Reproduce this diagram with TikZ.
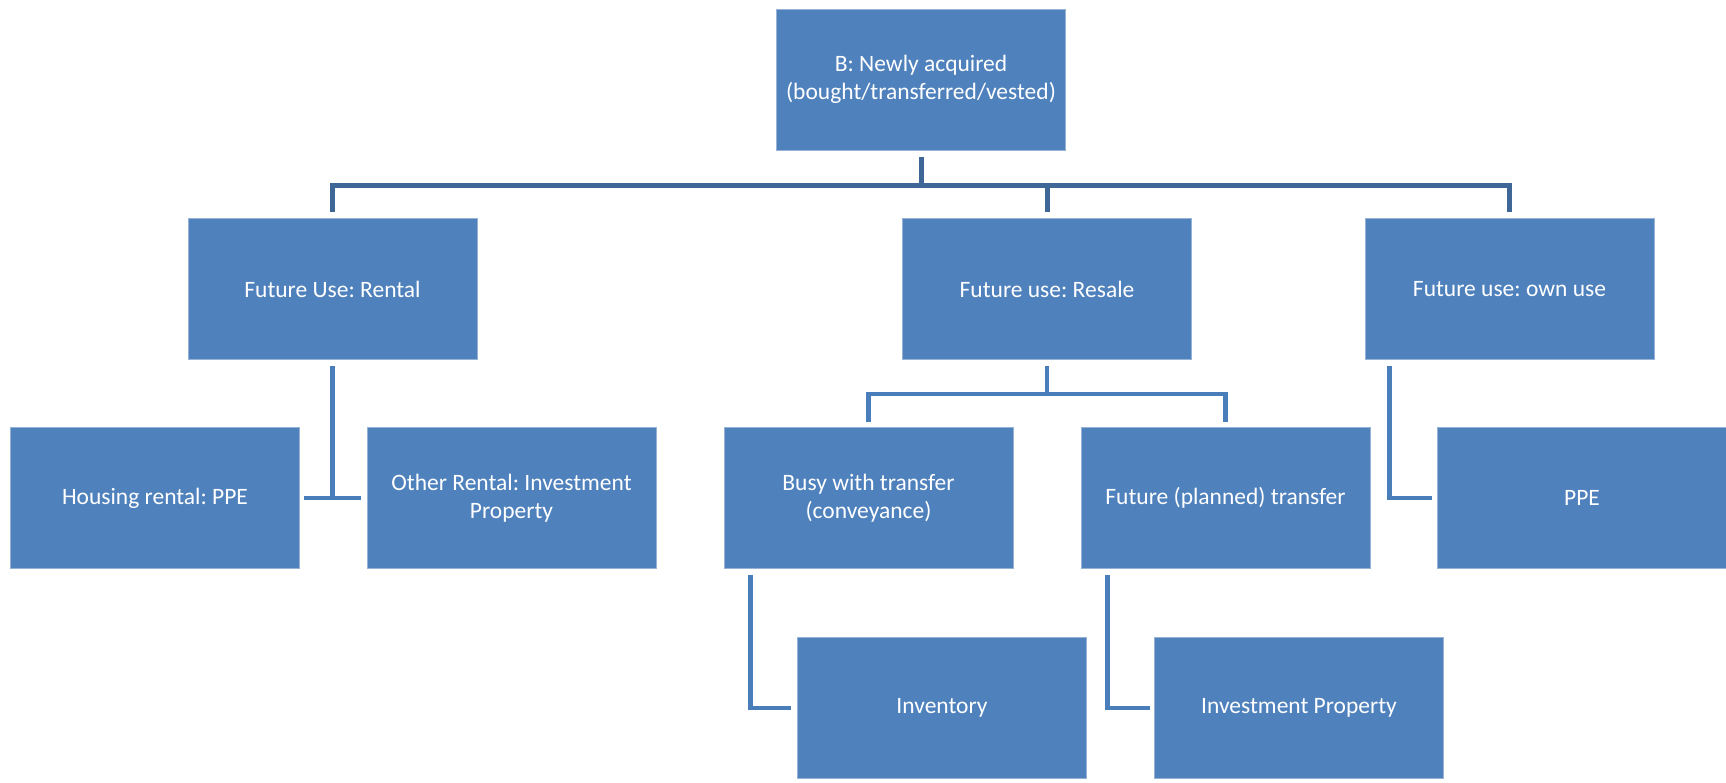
\documentclass[tikz,border=0pt]{standalone}
\usepackage{fontspec}
\setmainfont{Carlito}
\usetikzlibrary{calc}
\frenchspacing
\definecolor{boxfill}{RGB}{79,129,189}
\definecolor{boxedge}{RGB}{150,178,212}
\definecolor{conntop}{RGB}{62,103,151}
\definecolor{connc}{RGB}{74,126,187}
\tikzset{
  box/.style={rectangle, fill=boxfill, draw=boxedge, line width=1pt, inner sep=0pt,
    minimum width=289pt, minimum height=141pt, text=white, align=center,
    font=\fontsize{23.5}{28}\selectfont\frenchspacing},
  linktop/.style={draw=conntop, line width=5pt},
  link/.style={draw=connc, line width=4.5pt},
}
\begin{document}
\begin{tikzpicture}[x=1pt,y=-1pt]
\useasboundingbox[fill=white] (0,0) rectangle (1726,782);
% nodes
\node[box] (top) at (921,79.5) {B: Newly acquired\\(bought/transferred/vested)};
\node[box] (rental) at (332.5,289) {Future Use: Rental};
\node[box] (resale) at (1047,289) {Future use: Resale};
\node[box] (own) at (1509.5,289) {Future use: own use};
\node[box] (housing) at (155,498) {Housing rental: PPE};
\node[box] (other) at (511.5,498) {Other Rental: Investment\\Property};
\node[box] (busy) at (868.5,498) {Busy with transfer\\(conveyance)};
\node[box] (future) at (1225.5,498) {Future (planned) transfer};
\node[box] (ppe) at (1582,498) {PPE};
\node[box] (inv) at (942,708) {Inventory};
\node[box] (ip) at (1299,708) {Investment Property};
% top level connectors
\coordinate (tb) at ($(top.south)+(0,34.5)$);
\draw[linktop] ($(top.south)+(0,6)$) -- (tb);
\draw[linktop,line cap=rect] (rental.north |- tb) -- (own.north |- tb);
\draw[linktop] (rental.north |- tb) -- ($(rental.north)+(0,-6)$);
\draw[linktop] (resale.north |- tb) -- ($(resale.north)+(0,-6)$);
\draw[linktop] (own.north |- tb) -- ($(own.north)+(0,-6)$);
% rental
\draw[link] ($(rental.south)+(0,6)$) -- (rental.south |- housing.east);
\draw[link] ($(housing.east)+(4,0)$) -- ($(other.west)+(-6,0)$);
% resale
\coordinate (rb) at ($(resale.south)+(0,34)$);
\draw[link] ($(resale.south)+(0,6)$) -- (rb);
\draw[link,line cap=rect] (busy.north |- rb) -- (future.north |- rb);
\draw[link] (busy.north |- rb) -- ($(busy.north)+(0,-5)$);
\draw[link] (future.north |- rb) -- ($(future.north)+(0,-5)$);
% own use
\coordinate (ov) at ($(own.south west)+(25,6)$);
\draw[link] (ov) |- ($(ppe.west)+(-5,0)$);
% busy -> inventory
\coordinate (bv) at ($(busy.south west)+(27,6)$);
\draw[link] (bv) |- ($(inv.west)+(-6,0)$);
% future -> investment property
\coordinate (fv) at ($(future.south west)+(27,6)$);
\draw[link] (fv) |- ($(ip.west)+(-4,0)$);
\end{tikzpicture}
\end{document}
